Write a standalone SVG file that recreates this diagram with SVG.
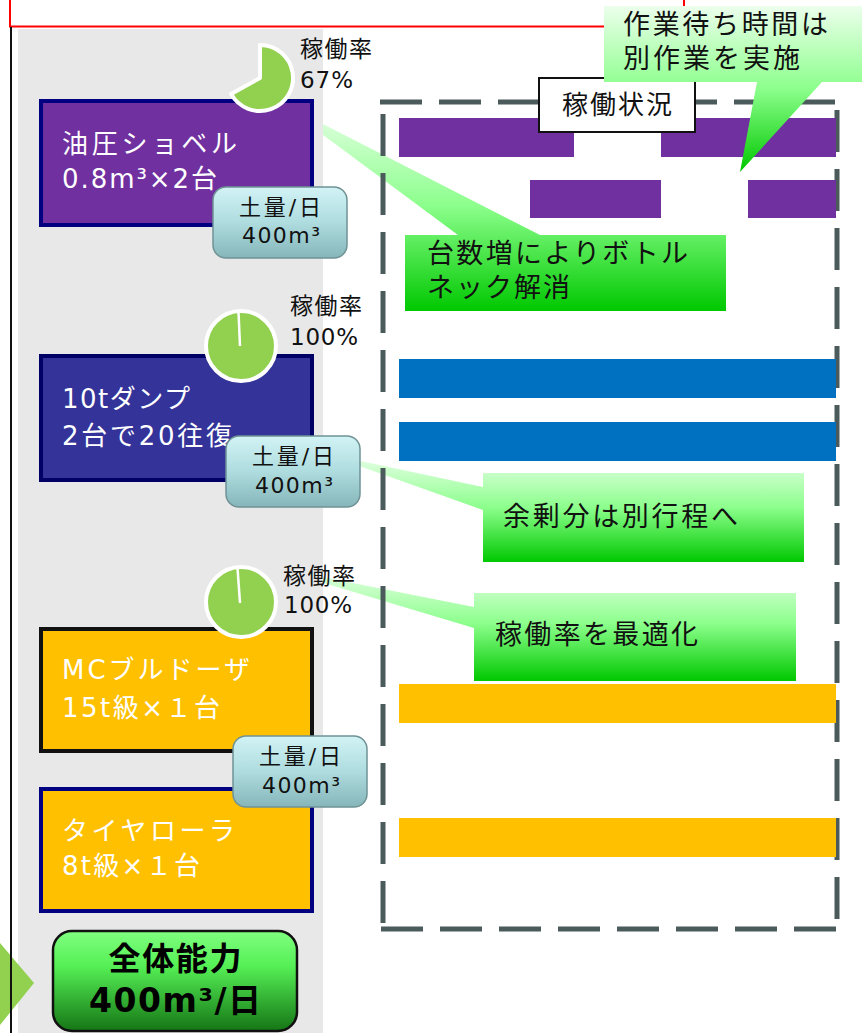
<svg xmlns="http://www.w3.org/2000/svg" width="862" height="1033" viewBox="0 0 862 1033">
<defs>
<linearGradient id="gCall" x1="0" y1="0" x2="0" y2="1">
<stop offset="0" stop-color="#ecffec"/>
<stop offset="0.5" stop-color="#8cff8c"/>
<stop offset="1" stop-color="#00c800"/>
</linearGradient>
<linearGradient id="gBadge" x1="0" y1="0" x2="0" y2="1">
<stop offset="0" stop-color="#d2f3f5"/>
<stop offset="0.5" stop-color="#aedcdf"/>
<stop offset="1" stop-color="#86b6ba"/>
</linearGradient>
<linearGradient id="gTotal" x1="0" y1="0" x2="0" y2="1">
<stop offset="0" stop-color="#80ff80"/>
<stop offset="0.35" stop-color="#55f055"/>
<stop offset="1" stop-color="#157515"/>
</linearGradient>
<style>
text{font-family:"DejaVu Sans","Noto Sans CJK JP",sans-serif;}
.nt{fill:#ffffff;font-size:26px;}
.pl{fill:#111111;font-size:23px;}
.bt{fill:#111111;font-size:22px;text-anchor:middle;}
.ct{fill:#111111;font-size:27px;}
.badge{fill:url(#gBadge);stroke:#6f9295;stroke-width:1.5;}
.call{fill:url(#gCall);}
.pie{fill:#92d050;stroke:#ffffff;stroke-width:4;stroke-linejoin:round;}
.dash{stroke:#4b5b5b;stroke-width:5;stroke-dasharray:42 17;fill:none;}
</style>
</defs>

<rect x="0" y="0" width="862" height="1033" fill="#ffffff"/>

<!-- title box (cut off) -->
<g id="title">
<rect x="10" y="-40" width="674" height="66.5" fill="#ffffff" stroke="#ff0000" stroke-width="2"/>
</g>

<!-- callouts behind the left panel -->
<g id="callout-bottleneck">
<path class="call" d="M405,235 L458,235 L276,100 L540,235 L726,235 L726,311 L405,311 Z"/>
<text class="ct" x="427" y="263" textLength="261" lengthAdjust="spacing">台数増によりボトル</text>
<text class="ct" x="427" y="297" textLength="143" lengthAdjust="spacing">ネック解消</text>
</g>
<g id="callout-surplus">
<path class="call" d="M483,473 L804,473 L804,562 L483,562 L483,510 L323,453 L483,487 Z"/>
<text class="ct" x="503" y="526" textLength="235" lengthAdjust="spacing">余剰分は別行程へ</text>
</g>
<g id="callout-optimize">
<path class="call" d="M474,593 L796,593 L796,681 L474,681 L474,628 L267,566 L474,607 Z"/>
<text class="ct" x="495" y="644" textLength="203" lengthAdjust="spacing">稼働率を最適化</text>
</g>

<!-- left panel -->
<rect x="18" y="29" width="305" height="1010" fill="#e8e8e8"/>
<polygon points="0,943 34,983 0,1025" fill="#92d050"/>
<line x1="11" y1="27" x2="11" y2="1033" stroke="#111111" stroke-width="2"/>

<g id="node-excavator">
<rect x="41" y="101" width="271" height="124" fill="#7030a0" stroke="#000080" stroke-width="4"/>
<text class="nt" x="62" y="153" textLength="175" lengthAdjust="spacing">油圧ショベル</text>
<text class="nt" x="62" y="188" textLength="155" lengthAdjust="spacing">0.8m³×2台</text>
</g>
<g id="node-dump">
<rect x="41" y="356" width="271" height="124" fill="#333399" stroke="#000066" stroke-width="4"/>
<text class="nt" x="62" y="408" textLength="128" lengthAdjust="spacing">10tダンプ</text>
<text class="nt" x="62" y="445" textLength="170" lengthAdjust="spacing">2台で20往復</text>
</g>
<g id="node-bulldozer">
<rect x="41" y="629" width="271" height="122" fill="#ffc000" stroke="#111111" stroke-width="4"/>
<text class="nt" x="62" y="679" textLength="188" lengthAdjust="spacing">MCブルドーザ</text>
<text class="nt" x="62" y="717" textLength="158" lengthAdjust="spacing">15t級×１台</text>
</g>
<g id="node-roller">
<rect x="41" y="789" width="271" height="122" fill="#ffc000" stroke="#000080" stroke-width="4"/>
<text class="nt" x="62" y="840" textLength="173" lengthAdjust="spacing">タイヤローラ</text>
<text class="nt" x="62" y="875" textLength="138" lengthAdjust="spacing">8t級×１台</text>
</g>

<!-- pies -->
<g id="pie-excavator">
<path class="pie" d="M260,78 L260,45 A33,33 0 1 1 231.1,93.9 Z"/>
<text class="pl" x="300" y="57" textLength="72" lengthAdjust="spacing">稼働率</text>
<text class="pl" x="300" y="88" textLength="53" lengthAdjust="spacing">67%</text>
</g>
<g id="pie-dump">
<circle class="pie" cx="241" cy="346" r="35"/>
<line x1="238.5" y1="312" x2="240" y2="346" stroke="#ffffff" stroke-width="2.5"/>
<text class="pl" x="290" y="314" textLength="72" lengthAdjust="spacing">稼働率</text>
<text class="pl" x="290" y="345" textLength="68" lengthAdjust="spacing">100%</text>
</g>
<g id="pie-bulldozer">
<circle class="pie" cx="241" cy="602" r="35"/>
<line x1="237.5" y1="568" x2="240" y2="603" stroke="#ffffff" stroke-width="2.5"/>
<text class="pl" x="283" y="584" textLength="72" lengthAdjust="spacing">稼働率</text>
<text class="pl" x="284" y="613" textLength="68" lengthAdjust="spacing">100%</text>
</g>

<!-- badges -->
<g id="badge-1">
<rect class="badge" x="213" y="187" width="134" height="71" rx="13"/>
<text class="bt" x="280" y="215" textLength="82" lengthAdjust="spacing">土量/日</text>
<text class="bt" x="281" y="243" textLength="78" lengthAdjust="spacing">400m³</text>
</g>
<g id="badge-2">
<rect class="badge" x="226" y="436" width="134" height="71" rx="13"/>
<text class="bt" x="293" y="464" textLength="82" lengthAdjust="spacing">土量/日</text>
<text class="bt" x="294" y="493" textLength="78" lengthAdjust="spacing">400m³</text>
</g>
<g id="badge-3">
<rect class="badge" x="233" y="736" width="134" height="71" rx="13"/>
<text class="bt" x="300" y="764" textLength="82" lengthAdjust="spacing">土量/日</text>
<text class="bt" x="301" y="793" textLength="78" lengthAdjust="spacing">400m³</text>
</g>

<g id="node-total">
<rect x="53" y="931" width="244" height="100" rx="19" fill="url(#gTotal)" stroke="#111111" stroke-width="2.5"/>
<text x="175" y="970" font-size="32" font-weight="bold" text-anchor="middle" fill="#000000" textLength="133" lengthAdjust="spacing">全体能力</text>
<text x="175" y="1012" font-size="33" font-weight="bold" text-anchor="middle" fill="#000000" textLength="172" lengthAdjust="spacing">400m³/日</text>
</g>

<!-- operation status frame -->
<g id="status-frame">
<line class="dash" x1="380" y1="102" x2="836" y2="102"/>
<line class="dash" x1="837" y1="110" x2="837" y2="926"/>
<line class="dash" x1="381" y1="929" x2="836" y2="929"/>
<line class="dash" x1="383" y1="114" x2="383" y2="926"/>
</g>

<g id="bars">
<rect x="399" y="118" width="175" height="39" fill="#7030a0"/>
<rect x="661" y="118" width="175" height="39" fill="#7030a0"/>
<rect x="530" y="180" width="131" height="38" fill="#7030a0"/>
<rect x="748" y="180" width="88" height="38" fill="#7030a0"/>
<rect x="399" y="359" width="437" height="39" fill="#0070c0"/>
<rect x="399" y="422" width="437" height="39" fill="#0070c0"/>
<rect x="399" y="684" width="437" height="39" fill="#ffc000"/>
<rect x="399" y="818" width="437" height="39" fill="#ffc000"/>
</g>

<g id="label-status">
<rect x="539" y="78" width="156" height="54" fill="#ffffff" stroke="#111111" stroke-width="2"/>
<text x="617" y="114" font-size="26" text-anchor="middle" fill="#111111" textLength="110" lengthAdjust="spacing">稼働状況</text>
</g>

<g id="callout-wait">
<path class="call" d="M604,6 L870,6 L870,82 L822,82 L740,172 L757,82 L604,82 Z"/>
<text class="ct" x="623" y="34" textLength="205" lengthAdjust="spacing">作業待ち時間は</text>
<text class="ct" x="623" y="68" textLength="177" lengthAdjust="spacing">別作業を実施</text>
</g>
</svg>
